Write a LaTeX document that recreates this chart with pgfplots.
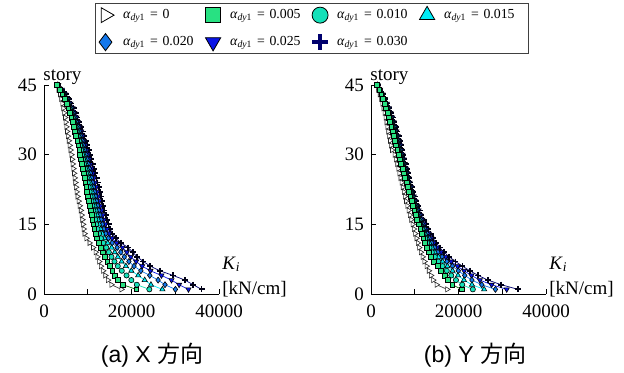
\documentclass[border=0pt]{standalone}
\usepackage{fontspec}
\setmainfont{Liberation Serif}
\newfontfamily\capfont{Liberation Sans}
\newfontfamily\cjk{Noto Sans CJK JP}
\usepackage{pgfplots}
\usepackage{pgfplotstable}
\pgfplotsset{compat=1.18}

\definecolor{cA5}{RGB}{40,225,130}
\definecolor{cA10}{RGB}{20,225,185}
\definecolor{cA15}{RGB}{0,235,245}
\definecolor{cA20}{RGB}{20,120,235}
\definecolor{cA25}{RGB}{10,20,230}
\definecolor{cA30}{RGB}{0,0,110}

\pgfplotstableread{
s a0 a5 a10 a15 a20 a25 a30
45 2900 3000 3060 3120 3180 3240 3300
44 3300 3600 3720 3840 3960 4080 4200
43 3650 4200 4360 4520 4680 4840 5000
42 3950 4700 4900 5100 5300 5500 5700
41 4200 5150 5370 5590 5810 6030 6250
40 4400 5550 5790 6030 6270 6510 6750
39 4600 5900 6160 6420 6680 6940 7200
38 4800 6250 6530 6810 7090 7370 7650
37 4950 6550 6850 7150 7450 7750 8050
36 5100 6850 7170 7490 7810 8130 8450
35 5250 7100 7440 7780 8120 8460 8800
34 5450 7350 7710 8070 8430 8790 9150
33 5650 7600 7980 8360 8740 9120 9500
32 5850 7850 8250 8650 9050 9450 9850
31 6050 8050 8480 8910 9340 9770 10200
30 6250 8250 8700 9150 9600 10050 10500
29 6400 8450 8920 9390 9860 10330 10800
28 6550 8650 9140 9630 10120 10610 11100
27 6700 8850 9360 9870 10380 10890 11400
26 6850 9050 9580 10110 10640 11170 11700
25 7000 9250 9800 10350 10900 11450 12000
24 7150 9450 10010 10570 11130 11690 12250
23 7300 9650 10220 10790 11360 11930 12500
22 7450 9850 10430 11010 11590 12170 12750
21 7650 10050 10640 11230 11820 12410 13000
20 7900 10250 10850 11450 12050 12650 13250
19 8150 10450 11060 11670 12280 12890 13500
18 8400 10650 11280 11910 12540 13170 13800
17 8600 10850 11500 12150 12800 13450 14100
16 8750 11050 11720 12390 13060 13730 14400
15 8900 11250 11950 12650 13350 14050 14750
14 9050 11500 12230 12960 13690 14420 15150
13 9250 11800 12570 13340 14110 14880 15650
12 9700 12150 13000 13850 14700 15550 16400
11 10400 12550 13560 14570 15580 16590 17600
10 11200 13000 14240 15480 16720 17960 19200
9 11800 13450 14820 16190 17560 18930 20300
8 12200 13950 15420 16890 18360 19830 21300
7 12600 14450 16100 17750 19400 21050 22700
6 13000 15000 16860 18720 20580 22440 24300
5 13500 15600 17780 19960 22140 24320 26500
4 14000 16200 18860 21520 24180 26840 29500
3 14600 16900 19960 23020 26080 29140 32200
2 15400 18000 21220 24440 27660 30880 34100
1 17700 21100 24080 27060 30040 33020 36000
}\tabX

\pgfplotstableread{
s a0 a5 a10 a15 a20 a25 a30
45 1300 1400 1420 1440 1460 1480 1500
44 1650 1900 1940 1980 2020 2060 2100
43 2000 2350 2420 2490 2560 2630 2700
42 2300 2750 2850 2950 3050 3150 3250
41 2600 3100 3230 3360 3490 3620 3750
40 2850 3450 3600 3750 3900 4050 4200
39 3100 3750 3920 4090 4260 4430 4600
38 3350 4050 4240 4430 4620 4810 5000
37 3550 4350 4550 4750 4950 5150 5350
36 3750 4650 4860 5070 5280 5490 5700
35 3950 4950 5160 5370 5580 5790 6000
34 4150 5250 5460 5670 5880 6090 6300
33 4350 5500 5720 5940 6160 6380 6600
32 4550 5750 5970 6190 6410 6630 6850
31 4800 6000 6220 6440 6660 6880 7100
30 5400 6300 6520 6740 6960 7180 7400
29 5700 6600 6810 7020 7230 7440 7650
28 6000 6900 7100 7300 7500 7700 7900
27 6250 7200 7390 7580 7770 7960 8150
26 6500 7500 7680 7860 8040 8220 8400
25 6750 7800 7980 8160 8340 8520 8700
24 7000 8100 8280 8460 8640 8820 9000
23 7250 8400 8580 8760 8940 9120 9300
22 7500 8700 8880 9060 9240 9420 9600
21 7750 9000 9190 9380 9570 9760 9950
20 8000 9300 9500 9700 9900 10100 10300
19 8300 9600 9820 10040 10260 10480 10700
18 8600 9900 10140 10380 10620 10860 11100
17 8900 10200 10460 10720 10980 11240 11500
16 9200 10550 10840 11130 11420 11710 12000
15 9500 10900 11220 11540 11860 12180 12500
14 9800 11250 11600 11950 12300 12650 13000
13 10100 11600 12000 12400 12800 13200 13600
12 10400 11950 12400 12850 13300 13750 14200
11 10700 12350 12860 13370 13880 14390 14900
10 11000 12800 13380 13960 14540 15120 15700
9 11400 13200 13900 14600 15300 16000 16700
8 11800 13750 14580 15410 16240 17070 17900
7 12200 14400 15380 16360 17340 18320 19300
6 12700 15200 16340 17480 18620 19760 20900
5 13200 16000 17320 18640 19960 21280 22600
4 13700 16800 18340 19880 21420 22960 24500
3 14200 17600 19420 21240 23060 24880 26700
2 15000 18600 20840 23080 25320 27560 29800
1 17400 20700 23280 25860 28440 31020 33600
}\tabY

\pgfplotsset{
  myaxis/.style={
    scale only axis, width=87.5pt, height=104.5pt,
    xmin=0, xmax=40000, ymin=0, ymax=45,
    axis x line*=bottom, axis y line*=left,
    xtick={0,10000,20000,30000,40000},
    xticklabels={0,,20000,,40000},
    ytick={0,15,30,45},
    tick align=inside, major tick length=2.5pt,
    scaled x ticks=false,
    /pgf/number format/assume math mode=true,
    tick label style={font=\fontsize{9.5}{11}\selectfont},
    xticklabel style={yshift=-2pt},
    axis line style={line width=0.5pt, black},
    every tick/.style={black, line width=0.5pt},
    clip=false,
  },
  s0/.style={forget plot, color=black!75, line width=0.35pt, mark=triangle*, mark size=1.5pt,
    mark options={rotate=-90, fill=white, draw=black!85, line width=0.3pt}},
  s5/.style={forget plot, color=green!40!black, line width=0.35pt, mark=square*, mark size=1.2pt,
    mark options={fill=cA5, draw=black, line width=0.3pt}},
  s10/.style={forget plot, color=cA10, line width=0.35pt, mark=*, mark size=1.3pt,
    mark options={fill=cA10, draw=black, line width=0.3pt}},
  s15/.style={forget plot, color=cA15, line width=0.35pt, mark=triangle*, mark size=1.5pt,
    mark options={fill=cA15, draw=black, line width=0.3pt}},
  s20/.style={forget plot, color=cA20, line width=0.35pt, mark=diamond*, mark size=1.5pt,
    mark options={fill=cA20, draw=black, line width=0.3pt}},
  s25/.style={forget plot, color=cA25, line width=0.35pt, mark=triangle*, mark size=1.5pt,
    mark options={rotate=180, fill=cA25, draw=black, line width=0.3pt}},
  s30/.style={forget plot, color=cA30, line width=0.35pt, mark=+, mark size=1.5pt,
    mark options={draw=black!80!cA30, line width=0.9pt}},
}

\newcommand{\ad}[1]{\textit{α}\textsubscript{\textit{dy}1} = #1}

\begin{document}
\begin{tikzpicture}
\path (0,0) rectangle (312pt,186pt);

\begin{axis}[myaxis, at={(22pt,39pt)}, anchor=south west,
  legend columns=4,
  legend style={at={(0.2914,1.3923)}, anchor=north west, draw=black!75, line width=0.5pt,
    inner xsep=1pt, inner ysep=0pt, row sep=1.9pt, column sep=0pt,
    font=\fontsize{6.9}{8}\selectfont,
    nodes={text width=39pt, inner xsep=2pt, inner ysep=0pt, minimum height=11.6pt, align=left},
    /tikz/every odd column/.append style={column sep=2.5pt}},
  legend image code/.code={\path[draw=none,fill=none] (0pt,-3pt) rectangle (8pt,3pt); \draw[#1] plot coordinates {(4pt,0pt)};},
]
\addplot[s0] table[x=a0, y=s]{\tabX};
\addplot[s30] table[x=a30, y=s]{\tabX};
\addplot[s25] table[x=a25, y=s]{\tabX};
\addplot[s20] table[x=a20, y=s]{\tabX};
\addplot[s15] table[x=a15, y=s]{\tabX};
\addplot[s10] table[x=a10, y=s]{\tabX};
\addplot[s5] table[x=a5, y=s]{\tabX};

\addlegendimage{only marks, mark=triangle*, mark size=4.3pt, mark options={rotate=-90, fill=white, draw=black, line width=0.4pt}}
\addlegendentry{\ad{0}}
\addlegendimage{only marks, mark=square*, mark size=3.8pt, mark options={fill=cA5, draw=black, line width=0.4pt}}
\addlegendentry{\ad{0.005}}
\addlegendimage{only marks, mark=*, mark size=4pt, mark options={fill=cA10, draw=black, line width=0.4pt}}
\addlegendentry{\ad{0.010}}
\addlegendimage{only marks, mark=triangle*, mark size=4.4pt, mark options={fill=cA15, draw=black, line width=0.4pt}}
\addlegendentry{\ad{0.015}}
\addlegendimage{only marks, mark=diamond*, mark size=4.3pt, mark options={fill=cA20, draw=black, line width=0.4pt}}
\addlegendentry{\ad{0.020}}
\addlegendimage{only marks, mark=triangle*, mark size=4.4pt, mark options={rotate=180, fill=cA25, draw=black, line width=0.4pt}}
\addlegendentry{\ad{0.025}}
\addlegendimage{only marks, mark=+, mark size=4pt, mark options={draw=cA30, line width=2.2pt}}
\addlegendentry{\ad{0.030}}

\node[anchor=base west, inner sep=0pt, font=\fontsize{9.5}{11}\selectfont, xshift=-0.5pt, yshift=2.5pt] at (axis cs:0,45) {story};
\node[anchor=base west, inner sep=0pt, font=\fontsize{9.5}{11}\selectfont, xshift=1.5pt] at (axis cs:40000,0) {[kN/cm]};
\node[anchor=base west, inner sep=0pt, font=\fontsize{9.5}{11}\selectfont, xshift=1.5pt, yshift=12.5pt] at (axis cs:40000,0) {\textit{K}\textsubscript{\textit{i}}};
\end{axis}

\begin{axis}[myaxis, at={(185.5pt,39pt)}, anchor=south west]
\addplot[s0] table[x=a0, y=s]{\tabY};
\addplot[s30] table[x=a30, y=s]{\tabY};
\addplot[s25] table[x=a25, y=s]{\tabY};
\addplot[s20] table[x=a20, y=s]{\tabY};
\addplot[s15] table[x=a15, y=s]{\tabY};
\addplot[s10] table[x=a10, y=s]{\tabY};
\addplot[s5] table[x=a5, y=s]{\tabY};
\node[anchor=base west, inner sep=0pt, font=\fontsize{9.5}{11}\selectfont, xshift=-0.5pt, yshift=2.5pt] at (axis cs:0,45) {story};
\node[anchor=base west, inner sep=0pt, font=\fontsize{9.5}{11}\selectfont, xshift=1.5pt] at (axis cs:40000,0) {[kN/cm]};
\node[anchor=base west, inner sep=0pt, font=\fontsize{9.5}{11}\selectfont, xshift=1.5pt, yshift=12.5pt] at (axis cs:40000,0) {\textit{K}\textsubscript{\textit{i}}};
\end{axis}

\node[anchor=base, inner sep=0pt, font=\capfont\fontsize{11.5}{13}\selectfont] at (76pt,4.7pt) {(a) X {\cjk 方向}};
\node[anchor=base, inner sep=0pt, font=\capfont\fontsize{11.5}{13}\selectfont] at (237.5pt,4.7pt) {(b) Y {\cjk 方向}};
\end{tikzpicture}
\end{document}
